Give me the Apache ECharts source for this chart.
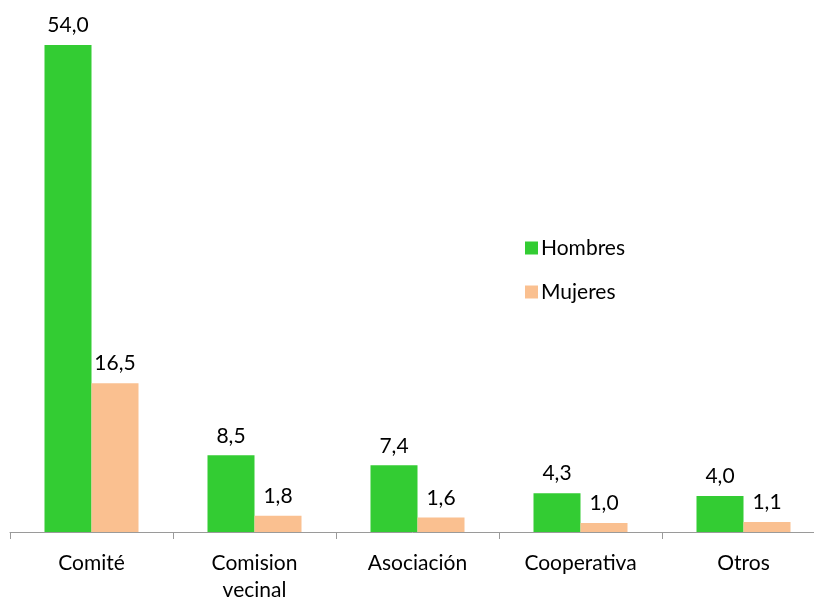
<!DOCTYPE html>
<html>
<head>
<meta charset="utf-8">
<script src="https://cdn.jsdelivr.net/npm/echarts@6/dist/echarts.min.js"></script>
<style>
  html, body { margin: 0; padding: 0; background: #fff; }
  #chart { width: 814px; height: 600px; }
</style>
</head>
<body>
<div id="chart"></div>
<script>
// categories and values
const categories = ["Comité", "Comision\nvecinal", "Asociación", "Cooperativa", "Otros"];
const hombres = [54.0, 8.5, 7.4, 4.3, 4.0];
const mujeres = [16.5, 1.8, 1.6, 1.0, 1.1];

const fontName = "Lato";
const fs = 21;
const txt = "#000";
const fmt = (p) => p.value.toFixed(1).replace(".", ",");

let chart = echarts.init(document.getElementById("chart"));
let option = {
  animation: false,
  textStyle: { fontFamily: fontName },
  legend: {
    orient: "vertical",
    left: 520,
    top: 232,
    itemWidth: 13,
    itemHeight: 13,
    itemGap: 22,
    icon: "rect",
    textStyle: { fontSize: fs, color: txt, fontFamily: fontName, lineHeight: 22, padding: [0, 0, 0, -2] },
    data: ["Hombres", "Mujeres"],
  },
  grid: {
    left: 10,
    right: -11,
    top: 45,
    bottom: 68,
    containLabel: false,
    outerBoundsMode: "none",
  },
  xAxis: {
    type: "category",
    data: categories,
    axisLine: { lineStyle: { color: "#9a9a9a", width: 1 } },
    axisTick: { show: true, length: 7, lineStyle: { color: "#9a9a9a" } },
    axisLabel: { color: txt, fontSize: fs, fontFamily: fontName, margin: 18, lineHeight: 27, interval: 0 },
  },
  yAxis: {
    type: "value",
    min: 0,
    max: 54,
    show: false,
    splitLine: { show: false },
  },
  series: [
    {
      name: "Hombres",
      type: "bar",
      data: hombres,
      barWidth: 47,
      barGap: "0%",
      itemStyle: { color: "#33cc33" },
      label: { show: true, position: "top", distance: 9, formatter: fmt, fontSize: fs, color: txt, fontFamily: fontName },
    },
    {
      name: "Mujeres",
      type: "bar",
      data: mujeres,
      barWidth: 47,
      itemStyle: { color: "#fac090" },
      label: { show: true, position: "top", distance: 9, formatter: fmt, fontSize: fs, color: txt, fontFamily: fontName },
    },
  ],
};
chart.setOption(option);
</script>
</body>
</html>
